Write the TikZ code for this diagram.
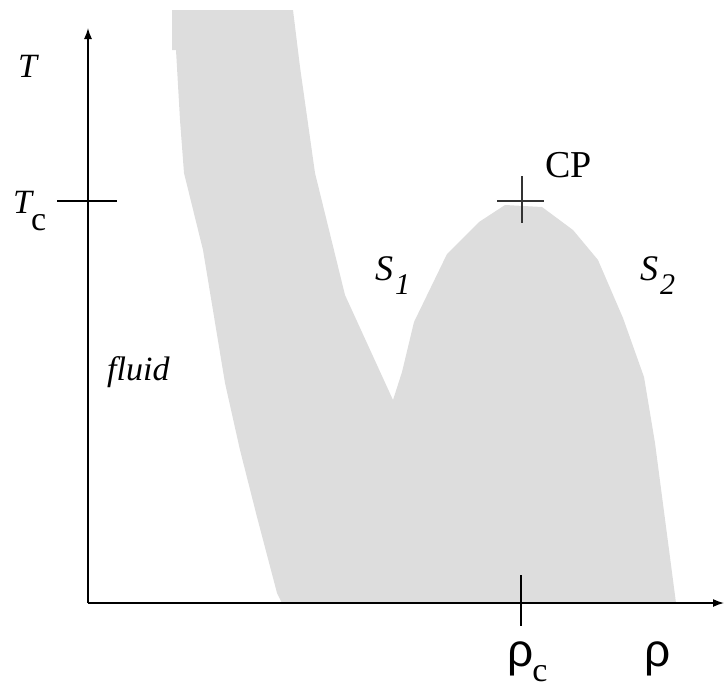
\documentclass[tikz,border=0pt]{standalone}
\usepackage{fontspec}
\setmainfont{Liberation Serif}
\newfontfamily\rhofont{Liberation Sans}
\usepackage{tikz}
\usetikzlibrary{arrows.meta}
\definecolor{phasegray}{RGB}{221,221,221}
\newcommand{\lowsub}[2][12pt]{\raisebox{-#1}{#2}}
\begin{document}
\begin{tikzpicture}[
        x=1pt, y=-1pt,
        every node/.style={font=\fontsize{34}{40}\selectfont, inner sep=0pt, anchor=base west},
        axis/.style={-{Latex[length=11pt,width=8pt]}, line width=1.4pt},
        tick/.style={line width=1.4pt},
        phase/.style={fill=phasegray, draw=none},
        branch/.style={font=\fontsize{36}{40}\selectfont},
        rho/.style={font=\fontsize{46}{50}\rhofont}
    ]
    \useasboundingbox (0,0) rectangle (727,688);
%
    \fill[phase] (172,10) -- (293,10) -- (300,67) -- (315,173) -- (345,295) -- (393,400)
        -- (402,372) -- (414,322) -- (447,254) -- (479,222) -- (505,205) -- (542,207)
        -- (573,230) -- (598,260) -- (623,318) -- (644,377) -- (655,443) -- (676,603)
        -- (282,603) -- (277,593) -- (257,517) -- (240,450) -- (225,383) -- (203,250)
        -- (184,173) -- (180,120) -- (176,50) -- (172,50) -- cycle;
    \coordinate (gapt) at (659,457);
    \coordinate (gapb) at (666,515);
    \draw[white, line width=1pt] (gapt) -- (gapb);
%
    \coordinate (origin) at (88,603);
    \coordinate (tend) at (88,28);
    \coordinate (rhoend) at (724,603);
    \draw[axis] (origin) -- (tend);
    \draw[axis] (origin) -- (rhoend);
%
    \coordinate (tcl) at (57,201);
    \coordinate (tcr) at (117,201);
    \draw[tick] (tcl) -- (tcr);
    \coordinate (rcb) at (521,575);
    \coordinate (rct) at (521,626);
    \draw[tick] (rcb) -- (rct);
    \coordinate (cpl) at (497,201);
    \coordinate (cpr) at (544,201);
    \coordinate (cpt) at (522,176);
    \coordinate (cpb) at (522,223);
    \draw[tick, black!80] (cpl) -- (cpr);
    \draw[tick, black!80] (cpt) -- (cpb);
%
    \node (tlabel) at (18,77) {\textit{T}};
    \node (tclabel) at (13,213) {\textit{T}\kern-3pt\lowsub[17pt]{c}};
    \node[font=\fontsize{38}{40}\selectfont] (cplabel) at (545,177) {CP};
    \node[branch] (sone) at (375,280) {\textit{S}\kern2pt\lowsub[14pt]{\fontsize{30}{30}\selectfont\textit{1}}};
    \node[branch] (stwo) at (640,280) {\textit{S}\kern2pt\lowsub[14pt]{\fontsize{30}{30}\selectfont\textit{2}}};
    \node (fluid) at (107,380) {\textit{fluid}};
    \node (rholabelc) at (507,666) {{\rhofont\fontsize{46}{50}\selectfont ρ}\kern-1pt\lowsub[15pt]{c}};
    \node[rho] (rholabel) at (644,666) {ρ};
%
\end{tikzpicture}
\end{document}
